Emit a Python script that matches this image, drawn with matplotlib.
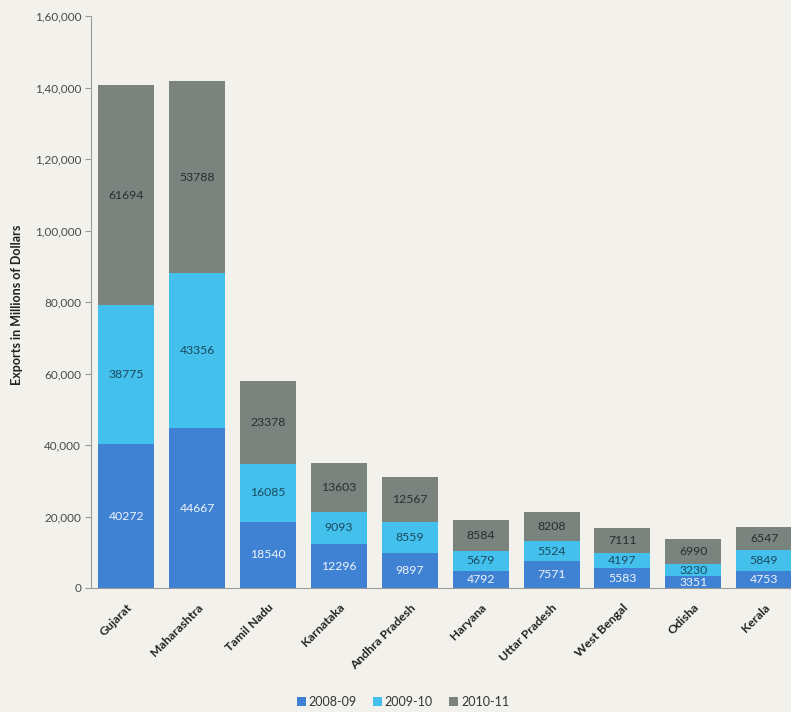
import matplotlib
matplotlib.use("Agg")
import matplotlib.pyplot as plt
from matplotlib.ticker import FixedLocator, FixedFormatter
from matplotlib.patches import Patch
import numpy as np

plt.rcParams['font.family'] = ['Lato', 'DejaVu Sans']

states = ["Gujarat", "Maharashtra", "Tamil Nadu", "Karnataka", "Andhra Pradesh",
          "Haryana", "Uttar Pradesh", "West Bengal", "Odisha", "Kerala"]
years = ["2008-09", "2009-10", "2010-11"]
exports_2008_09 = [40272, 44667, 18540, 12296, 9897, 4792, 7571, 5583, 3351, 4753]
exports_2009_10 = [38775, 43356, 16085, 9093, 8559, 5679, 5524, 4197, 3230, 5849]
exports_2010_11 = [61694, 53788, 23378, 13603, 12567, 8584, 8208, 7111, 6990, 6547]
yticks = [0, 20000, 40000, 60000, 80000, 100000, 120000, 140000, 160000]
ytick_labels = ["0", "20,000", "40,000", "60,000", "80,000",
                "1,00,000", "1,20,000", "1,40,000", "1,60,000"]

colors = ["#3f82d3", "#44c0ec", "#7b837f"]
label_colors = ["#eef3fb", "#1b4a60", "#2a2e2c"]
bg = "#f3f1eb"

W, H = 791, 712
fig = plt.figure(figsize=(W / 100, H / 100), dpi=100, facecolor=bg)
ax = fig.add_axes([91 / W, (H - 588) / H, 700 / W, 572 / H])
ax.set_facecolor(bg)

x = np.arange(len(states))
series = [exports_2008_09, exports_2009_10, exports_2010_11]
bottom = np.zeros(len(states))
for vals, col, lcol in zip(series, colors, label_colors):
    vals = np.array(vals, dtype=float)
    ax.bar(x, vals, 0.79, bottom=bottom, color=col, edgecolor="none")
    for xi, b, v in zip(x, bottom, vals):
        ax.text(xi, b + v / 2, f"{int(v)}", ha="center", va="center",
                fontsize=8.8, color=lcol)
    bottom += vals

ax.set_xlim(-0.5, 9.38)
ax.set_ylim(0, 160000)
ax.yaxis.set_major_locator(FixedLocator(yticks))
ax.yaxis.set_major_formatter(FixedFormatter(ytick_labels))
ax.tick_params(axis="y", labelsize=8.5, labelcolor="#4a4a4a", color="#9a9a9a",
               length=4, width=0.8, pad=3)
ax.set_xticks(x)
ax.set_xticklabels(states, rotation=45, ha="right", rotation_mode="anchor",
                   fontsize=8.8, fontweight="bold", color="#222222")
ax.tick_params(axis="x", length=0, pad=10)

for side in ["top", "right"]:
    ax.spines[side].set_visible(False)
ax.spines["left"].set_color("#9a9a9a")
ax.spines["bottom"].set_color("#9a9a9a")
ax.spines["left"].set_linewidth(0.8)
ax.spines["bottom"].set_linewidth(0.8)

fig.text(17 / W, 1 - 305 / H, "Exports in Millions of Dollars", rotation=90,
         ha="center", va="center", fontsize=9, fontweight="bold", color="#222222")

handles = [Patch(facecolor=c, edgecolor="none") for c in colors]
fig.legend(handles, years, loc="center", bbox_to_anchor=(403 / W, 1 - 702 / H),
           ncol=3, frameon=False, fontsize=9, handlelength=0.7, handleheight=0.7,
           handletextpad=0.25, columnspacing=1.3, labelcolor="#333333")

fig.savefig("out.png", dpi=100, facecolor=bg)
